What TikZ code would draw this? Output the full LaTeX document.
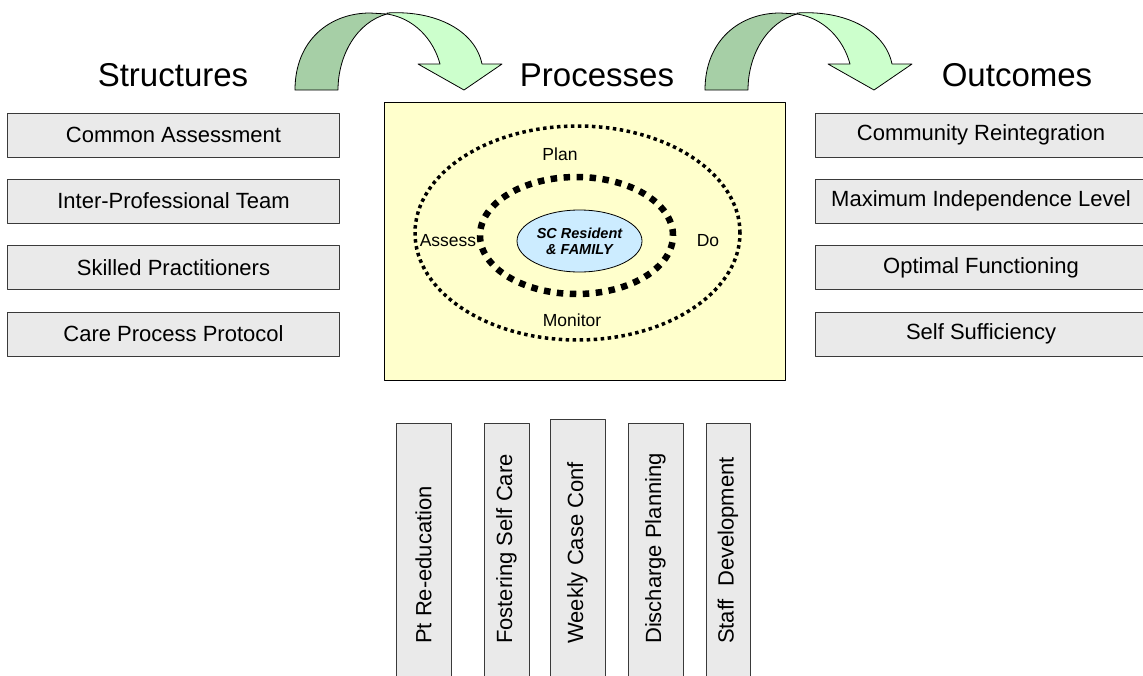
\documentclass[tikz,border=0pt]{standalone}
\usepackage{fontspec}
\setmainfont{Liberation Sans}
\usetikzlibrary{shapes.geometric}

\begin{document}
\begin{tikzpicture}[
    x=1pt,
    y=-1pt,
    line cap=round,
    line join=round
]

\definecolor{BoxGray}{HTML}{EAEAEA}
\definecolor{EdgeGray}{HTML}{3A3A3A}
\definecolor{PaleYellow}{HTML}{FFFFCC}
\definecolor{PaleBlue}{HTML}{CCECFF}
\definecolor{BackGreen}{HTML}{A6CFA6}
\definecolor{FrontGreen}{HTML}{CCFFCC}

\tikzset{
    item box/.style={
        draw=EdgeGray,
        fill=BoxGray,
        line width=1pt,
        minimum width=332pt,
        minimum height=44pt,
        inner sep=0pt,
        font=\fontsize{22}{26}\selectfont
    },
    bar box/.style={
        draw=EdgeGray,
        fill=BoxGray,
        line width=1pt,
        minimum width=#1,
        minimum height=262pt,
        inner sep=0pt,
        anchor=north
    },
    bar label/.style={
        rotate=90,
        anchor=west,
        inner sep=0pt,
        font=\fontsize{22}{26}\selectfont
    },
    title/.style={
        font=\fontsize{33}{38}\selectfont
    },
    step label/.style={
        font=\fontsize{17.5}{20}\selectfont
    },
    loop ring/.style={
        ellipse,
        draw=black,
        line cap=butt,
        inner sep=0pt
    },
    bend arrow/.pic={
        % darker back face of the ribbon
        \filldraw[fill=BackGreen, draw=black, line width=0.8pt]
            (0,90) .. controls (0,40) and (35,13) .. (75,13)
            -- (92,14) .. controls (62,22) and (43,55) .. (43,90) -- cycle;
        % lighter front face with the head
        \filldraw[fill=FrontGreen, draw=black, line width=0.8pt]
            (92,13) .. controls (140,10) and (180,30) .. (187,64)
            -- (207,64) -- (169,90) -- (123,64) -- (145,64)
            .. controls (138,38) and (118,18) .. (92,14) -- cycle;
    }
}

\useasboundingbox[fill=white] (0,0) rectangle (1143,675);

% curved arrows between the columns
\pic at (295,0) {bend arrow};
\pic at (705,0) {bend arrow};

% column titles
\node[title] (structures) at (173,75) {Structures};
\node[title] (processes) at (597,75) {Processes};
\node[title] (outcomes) at (1017,75) {Outcomes};

% structures and outcomes
\foreach \y/\name/\txt in {135/ca/Common Assessment,201/ipt/Inter-Professional Team,
        267.5/sp/Skilled Practitioners,334/cpp/Care Process Protocol} {
    \node[item box] (\name) at (173.5,\y) {\txt};
}
\foreach \y/\name/\txt in {135/cr/Community Reintegration,201/mil/Maximum Independence Level,
        267.5/of/Optimal Functioning,334/ss/Self Sufficiency} {
    \node[item box] (\name) at (981,\y) {\txt};
}

% care cycle
\node[draw=black, fill=PaleYellow, line width=0.8pt, minimum width=401pt,
    minimum height=278pt, inner sep=0pt] (process) at (584.5,241) {};
\node[loop ring, line width=3.5pt, dash pattern=on 3.5pt off 3.5pt,
    minimum width=325pt, minimum height=214pt] (outer) at (577.5,233) {};
\node[loop ring, line width=6.5pt, dash pattern=on 6.5pt off 6.5pt,
    minimum width=193pt, minimum height=117pt] (inner) at (576.5,235.5) {};
\node[ellipse, draw=black, fill=PaleBlue, line width=0.8pt, inner sep=0pt,
    minimum width=125pt, minimum height=62pt, align=center,
    font=\fontsize{14.5}{16}\selectfont\bfseries\itshape] (resident) at (579.5,241)
    {SC Resident\\\& FAMILY};

\node[step label] (plan) at (560,154) {Plan};
\node[step label] (assess) at (448,241) {Assess};
\node[step label] (do) at (708,241) {Do};
\node[step label] (monitor) at (572,320) {Monitor};

% supporting activities
\foreach \x/\w/\t/\name/\txt in {423.5/55pt/423/pre/Pt Re-education,506.5/45pt/423/fsc/Fostering Self Care,
        577.5/55pt/419/wcc/Weekly Case Conf,655.5/55pt/423/dp/Discharge Planning,
        728/44pt/423/sd/Staff\ \ Development} {
    \node[bar box=\w] (\name) at (\x,\t) {};
    \node[bar label] (\name text) at (\x,644) {\txt};
}

\end{tikzpicture}
\end{document}
